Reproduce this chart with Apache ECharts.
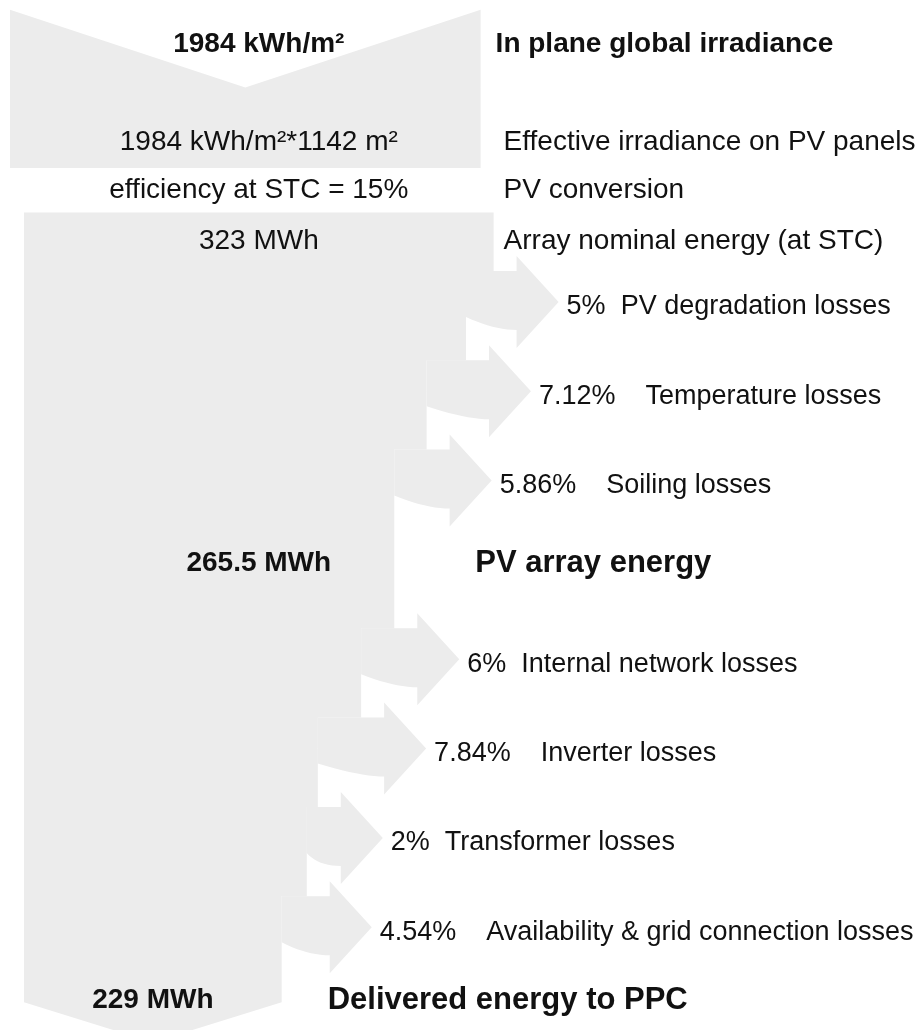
<!DOCTYPE html>
<html>
<head>
<meta charset="utf-8">
<title>PV plant energy flow</title>
<script src="https://cdn.jsdelivr.net/npm/echarts@6.0.0/dist/echarts.min.js"></script>
<style>
  html, body { margin: 0; padding: 0; background: #fff; }
  #chart { width: 919px; height: 1030px; }
</style>
</head>
<body>
<div id="chart"></div>
<script>
// stages of the chain, top to bottom
var stageNames = ['In plane global irradiance', 'Effective irradiance on PV panels', 'PV conversion',
  'Array nominal energy (at STC)', 'PV array energy', 'Delivered energy to PPC'];
var stageValues = ['1984 kWh/m²', '1984 kWh/m²*1142 m²', 'efficiency at STC = 15%',
  '323 MWh', '265.5 MWh', '229 MWh'];
var stageBold = [true, false, false, false, true, true];

// losses, in % of the array nominal energy
var lossNames = ['PV degradation losses', 'Temperature losses', 'Soiling losses',
  'Internal network losses', 'Inverter losses', 'Transformer losses',
  'Availability & grid connection losses'];
var lossPct = [5, 7.12, 5.86, 6, 7.84, 2, 4.54];
var arrayLossCount = 3; // losses before "PV array energy"

// ---- layout (not data) ----
var FILL = '#ececec';
var FONT = '"Liberation Sans", Arial, sans-serif';
var X_MIN = 15, X_MAX = 177;          // axis cut: body left edge sits on X_MIN
var stageRow = [-1.88, -0.79, -0.25, 0.32, 3.93, 8.82];
var stageDx = [2, 10, 10, 10, 81, 46]; // right label offset from body edge, px
var nameSize = [28, 28, 28, 28, 31, 31];
var SHAFT_UP = 31, SHAFT_DN = 28, CURVE = 15, HEAD = 46, HEAD_GAP = 23, HEAD_LEN = 42;

// body right edge after each loss
var edges = [100];
lossPct.forEach(function (p, i) { edges.push(edges[i] - p); });
var lossRow = lossPct.map(function (p, i) { return i + 1 + (i >= arrayLossCount ? 1 : 0); });
var lastRow = lossRow[lossRow.length - 1];

function txt(x, y, s, bold, size, align) {
  return {
    type: 'text', x: x, y: y,
    style: {
      text: s, fill: '#111', font: (bold ? 'bold ' : '') + size + 'px ' + FONT,
      align: align || 'left', verticalAlign: 'middle'
    }
  };
}

var chart = echarts.init(document.getElementById('chart'));

var option = {
  animation: false,
  grid: { left: 24, right: 0, top: 0, bottom: 0 },
  xAxis: { type: 'value', min: X_MIN, max: X_MAX, show: false },
  yAxis: { type: 'value', min: -2.38, max: 9.15, inverse: true, show: false },
  series: [
    {
      // main body + top irradiance block
      type: 'custom', clip: false, silent: true,
      data: [[X_MIN, 0]],
      renderItem: function (params, api) {
        var left = api.coord([X_MIN, 0])[0];
        var pts = [api.coord([X_MIN, 0]), api.coord([edges[0], 0])];
        lossPct.forEach(function (p, i) {
          var cy = api.coord([X_MIN, lossRow[i]])[1];
          pts.push([api.coord([edges[i], 0])[0], cy - SHAFT_UP]);
          pts.push([api.coord([edges[i + 1], 0])[0], cy - SHAFT_UP]);
        });
        var endY = api.coord([X_MIN, lastRow + 0.84])[1];
        var right = api.coord([edges[edges.length - 1], 0])[0];
        pts.push([right, endY], [(left + right) / 2, endY + 40], [left, endY]);

        // top block, slightly shifted left
        var tl = left - 14, tr = api.coord([100, 0])[0] - 13;
        var yT = api.coord([X_MIN, -2.27])[1], yA = api.coord([X_MIN, -1.4])[1], yB = api.coord([X_MIN, -0.5])[1];
        var top = [[tl, yT], [(tl + tr) / 2, yA], [tr, yT], [tr, yB], [tl, yB]];

        return {
          type: 'group',
          children: [
            { type: 'polygon', shape: { points: top }, style: { fill: FILL } },
            { type: 'polygon', shape: { points: pts }, style: { fill: FILL } }
          ]
        };
      }
    },
    {
      // loss arrows
      type: 'custom', clip: false, silent: true,
      data: lossPct.map(function (p, i) { return [edges[i + 1], lossRow[i], i]; }),
      renderItem: function (params, api) {
        var i = params.dataIndex;
        var cy = api.coord([X_MIN, lossRow[i]])[1];
        var xp = api.coord([edges[i], 0])[0];
        var xn = api.coord([edges[i + 1], 0])[0];
        var hl = xp + HEAD_GAP, tip = hl + HEAD_LEN;
        var pts = [[xn, cy - SHAFT_UP], [hl, cy - SHAFT_UP], [hl, cy - HEAD], [tip, cy],
          [hl, cy + HEAD], [hl, cy + SHAFT_DN]];
        // curved underside back to the body
        var p0 = [hl, cy + SHAFT_DN], p1 = [xp, cy + SHAFT_DN], p2 = [xn, cy + CURVE];
        for (var k = 1; k <= 10; k++) {
          var t = k / 10, a = (1 - t) * (1 - t), b = 2 * (1 - t) * t, c = t * t;
          pts.push([a * p0[0] + b * p1[0] + c * p2[0], a * p0[1] + b * p1[1] + c * p2[1]]);
        }
        var gap = lossPct[i] % 1 === 0 ? '  ' : '    ';
        return {
          type: 'group',
          children: [
            { type: 'polygon', shape: { points: pts }, style: { fill: FILL } },
            txt(tip + 8, cy + 5, lossPct[i] + '%' + gap + lossNames[i], false, 27)
          ]
        };
      }
    },
    {
      // stage texts
      type: 'custom', clip: false, silent: true,
      data: stageNames.map(function (n, i) { return [X_MIN, stageRow[i], i]; }),
      renderItem: function (params, api) {
        var i = params.dataIndex;
        var y = api.coord([X_MIN, stageRow[i]])[1];
        var last = i === stageNames.length - 1;
        var edgeVal = i < 4 ? 100 : (last ? edges[edges.length - 1] : edges[arrayLossCount]);
        var cx = (api.coord([X_MIN, 0])[0] + api.coord([last ? edgeVal : 100, 0])[0]) / 2;
        var rx = api.coord([edgeVal, 0])[0] + stageDx[i];
        return {
          type: 'group',
          children: [
            txt(cx, y, stageValues[i], stageBold[i], 28, 'center'),
            txt(rx, y, stageNames[i], stageBold[i], nameSize[i])
          ]
        };
      }
    }
  ]
};

chart.setOption(option);
</script>
</body>
</html>
